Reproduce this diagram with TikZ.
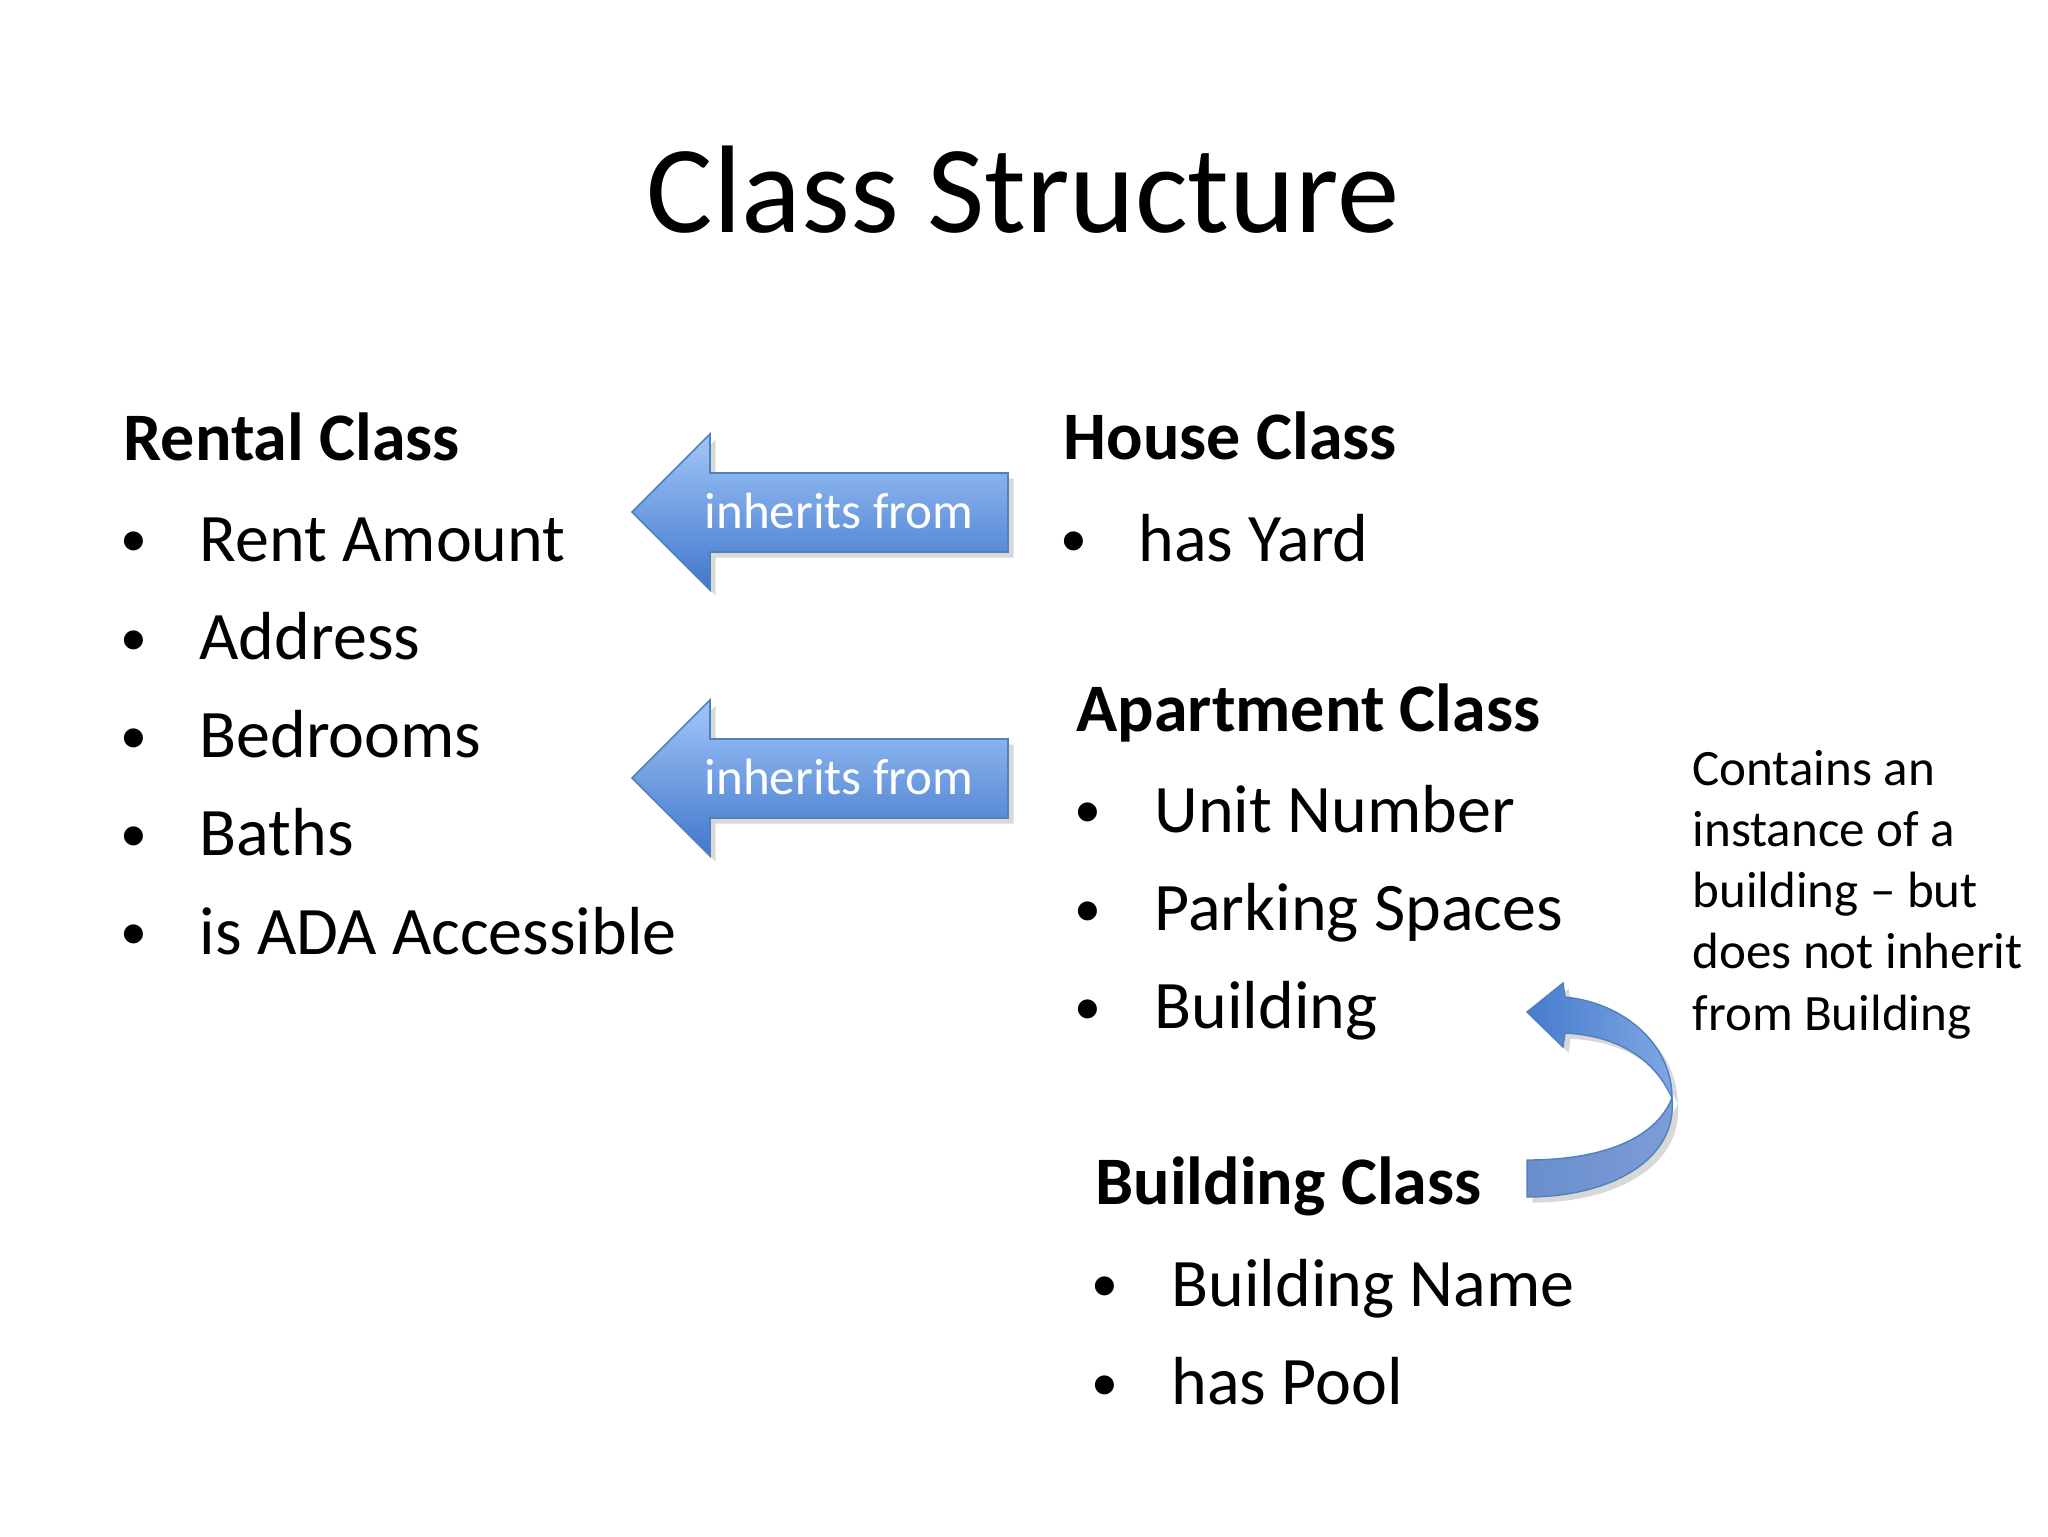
\documentclass[tikz,border=0pt]{standalone}
\usepackage{fontspec}
\setmainfont{Carlito}
\usetikzlibrary{shadows}
\definecolor{arrowtop}{RGB}{162,198,248}
\definecolor{arrowbot}{RGB}{64,119,204}
\definecolor{arrowline}{RGB}{79,129,189}
\definecolor{ribbonA}{RGB}{70,123,205}
\definecolor{ribbonB}{RGB}{128,167,228}
\definecolor{ribbonC}{RGB}{106,142,205}
\definecolor{ribbonD}{RGB}{124,158,216}

\begin{document}
\begin{tikzpicture}[x=0.3516bp, y=-0.3516bp,
  slidetitle/.style={font=\fontsize{44}{53}\selectfont, anchor=base, inner sep=0},
  classhead/.style={font=\fontsize{24}{29}\selectfont\bfseries, anchor=base west, inner sep=0},
  item/.style={font=\fontsize{24}{29}\selectfont, anchor=base west, inner sep=0},
  dot/.style={font=\fontsize{19}{23}\selectfont, anchor=base, inner sep=0, yshift=1.5bp},
  note/.style={font=\fontsize{18}{22}\selectfont, anchor=base west, inner sep=0},
  inhlabel/.style={font=\fontsize{18}{22}\selectfont, text=white, anchor=base west, inner sep=0},
  inharrow/.style={draw=arrowline, line width=0.6pt, top color=arrowtop, bottom color=arrowbot,
    drop shadow={shadow xshift=2pt, shadow yshift=-2pt, opacity=0.3}},
  ribbon/.style={draw=arrowline, line width=0.5pt,
    drop shadow={shadow xshift=2pt, shadow yshift=-2pt, opacity=0.3}}
]

  \fill[white] (0,0) rectangle (2048,1536);
  \useasboundingbox (0,0) rectangle (2048,1536);

  \def\dy{98.3};

  \node[slidetitle] (title) at (1023,232) {Class Structure};

	%rental
  \node[classhead] (rental) at (123,460) {Rental Class};
    \foreach \i/\txt/\name in {0/Rent Amount/rent,1/Address/addr,2/Bedrooms/bed,3/Baths/bath,4/is ADA Accessible/ada}{
        \node[dot] (\name d) at (134, 561 + \i*\dy) {•};
        \node[item] (\name) at (199, 561 + \i*\dy) {\txt};
    }

	%house
  \node[classhead] (house) at (1063,459) {House Class};
  \node[dot] (yardd) at (1074,561) {•};
  \node[item] (yard) at (1138,561) {has Yard};

	%apartment
  \node[classhead] (apt) at (1076,731) {Apartment Class};
    \foreach \i/\txt/\name in {0/Unit Number/unit,1/Parking Spaces/park,2/Building/bref}{
        \node[dot] (\name d) at (1088, 832 + \i*\dy) {•};
        \node[item] (\name) at (1154, 832 + \i*\dy) {\txt};
    }

	%building
  \node[classhead] (bldg) at (1095,1204) {Building Class};
    \foreach \i/\txt/\name in {0/Building Name/bname,1/has Pool/pool}{
        \node[dot] (\name d) at (1105, 1306 + \i*\dy) {•};
        \node[item] (\name) at (1171, 1306 + \i*\dy) {\txt};
    }

	%note
    \foreach \i/\txt in {0/Contains an,1/instance of a,2/building – but,3/does not inherit,4/from Building}{
        \node[note] (note\i) at (1692, 785 + \i*61.3) {\txt};
    }

	%inherits arrows
    \foreach \k/\cy in {1/512,2/778}{
        \path[inharrow] (632,\cy) -- (710,\cy-78) -- (710,\cy-39) -- (1008,\cy-39)
              -- (1008,\cy+40) -- (710,\cy+40) -- (710,\cy+78) -- cycle;
        \node[inhlabel] (inh\k) at (704,\cy+16) {inherits from};
    }

	%contains arrow
  \coordinate (ctip) at (1527,1012);
  \coordinate (cpinch) at (1672,1098);
  \coordinate (cend) at (1527,1197);
  \coordinate (cendi) at (1527,1160);
  \path[ribbon, left color=ribbonC, right color=ribbonD]
        (cpinch) .. controls (1678,1160) and (1610,1197) .. (cend)
        -- (cendi) .. controls (1600,1160) and (1655,1140) .. (cpinch) -- cycle;
  \path[ribbon, left color=ribbonA, right color=ribbonB]
        (ctip) -- (1563,983) -- (1565,997) .. controls (1625,1003) and (1672,1045) .. (cpinch)
        .. controls (1655,1060) and (1620,1036) .. (1565,1033) -- (1563,1047) -- cycle;

\end{tikzpicture}
\end{document}
